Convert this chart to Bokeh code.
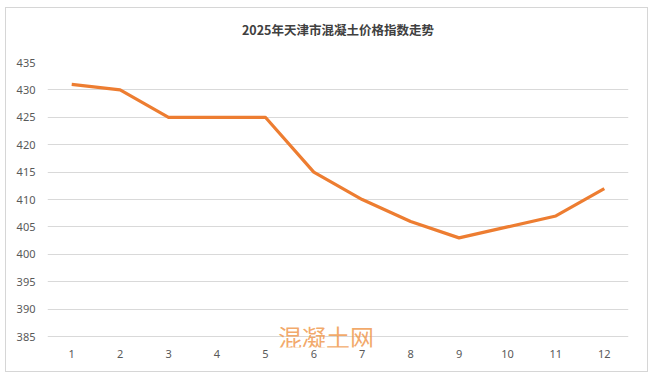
from bokeh.plotting import figure
from bokeh.models import Range1d, FactorRange, Label, SingleIntervalTicker, Title
from bokeh.embed import file_html
from bokeh.resources import INLINE

months = ["1", "2", "3", "4", "5", "6", "7", "8", "9", "10", "11", "12"]
index_values = [431, 430, 425, 425, 425, 415, 410, 406, 403, 405, 407, 412]
title_text = "2025年天津市混凝土价格指数走势"
watermark = "混凝土网"

p = figure(title=None, frame_width=581, frame_height=285,
           x_range=FactorRange(*months, range_padding=0),
           y_range=Range1d(383, 435), output_backend="svg", toolbar_location=None,
           min_border=0, min_border_left=41, min_border_right=19,
           min_border_top=54, min_border_bottom=24)
p.margin = (7, 0, 0, 5)
p.styles = {"border": "1px solid #d6d6d6"}

p.line(months, index_values, line_color="#ED7D31", line_width=3.2, line_join="round")

spacer = Title(text=" ", text_font_size="20px", standoff=0)
p.add_layout(spacer, "above")
main_title = Title(text=title_text, align="center", text_font="Noto Sans CJK SC",
                   text_font_size="12.5px", text_font_style="bold", text_color="#404040",
                   standoff=0)
p.add_layout(main_title, "above")

p.outline_line_color = None
p.border_fill_color = "white"
p.background_fill_color = "white"

p.yaxis.ticker = SingleIntervalTicker(interval=5)
for ax in (p.xaxis[0], p.yaxis[0]):
    ax.axis_line_color = None
    ax.major_tick_line_color = None
    ax.minor_tick_line_color = None
    ax.major_label_text_color = "#595959"
    ax.major_label_text_font = "Noto Sans"
    ax.major_label_text_font_size = "11px"
p.yaxis.major_label_standoff = 6
p.xaxis.major_label_standoff = -4

p.xgrid.grid_line_color = None
p.ygrid.grid_line_color = "#d9d9d9"
p.ygrid.grid_line_width = 1.2
p.ygrid.ticker = SingleIntervalTicker(interval=5)

p.add_layout(Label(x=5.75, y=385, text=watermark, text_align="center", text_baseline="middle",
                   text_font="Noto Sans CJK SC", text_font_size="24px",
                   text_color="#F09A50", text_alpha=0.85))

open("out.html", "w").write(file_html(p, INLINE))
